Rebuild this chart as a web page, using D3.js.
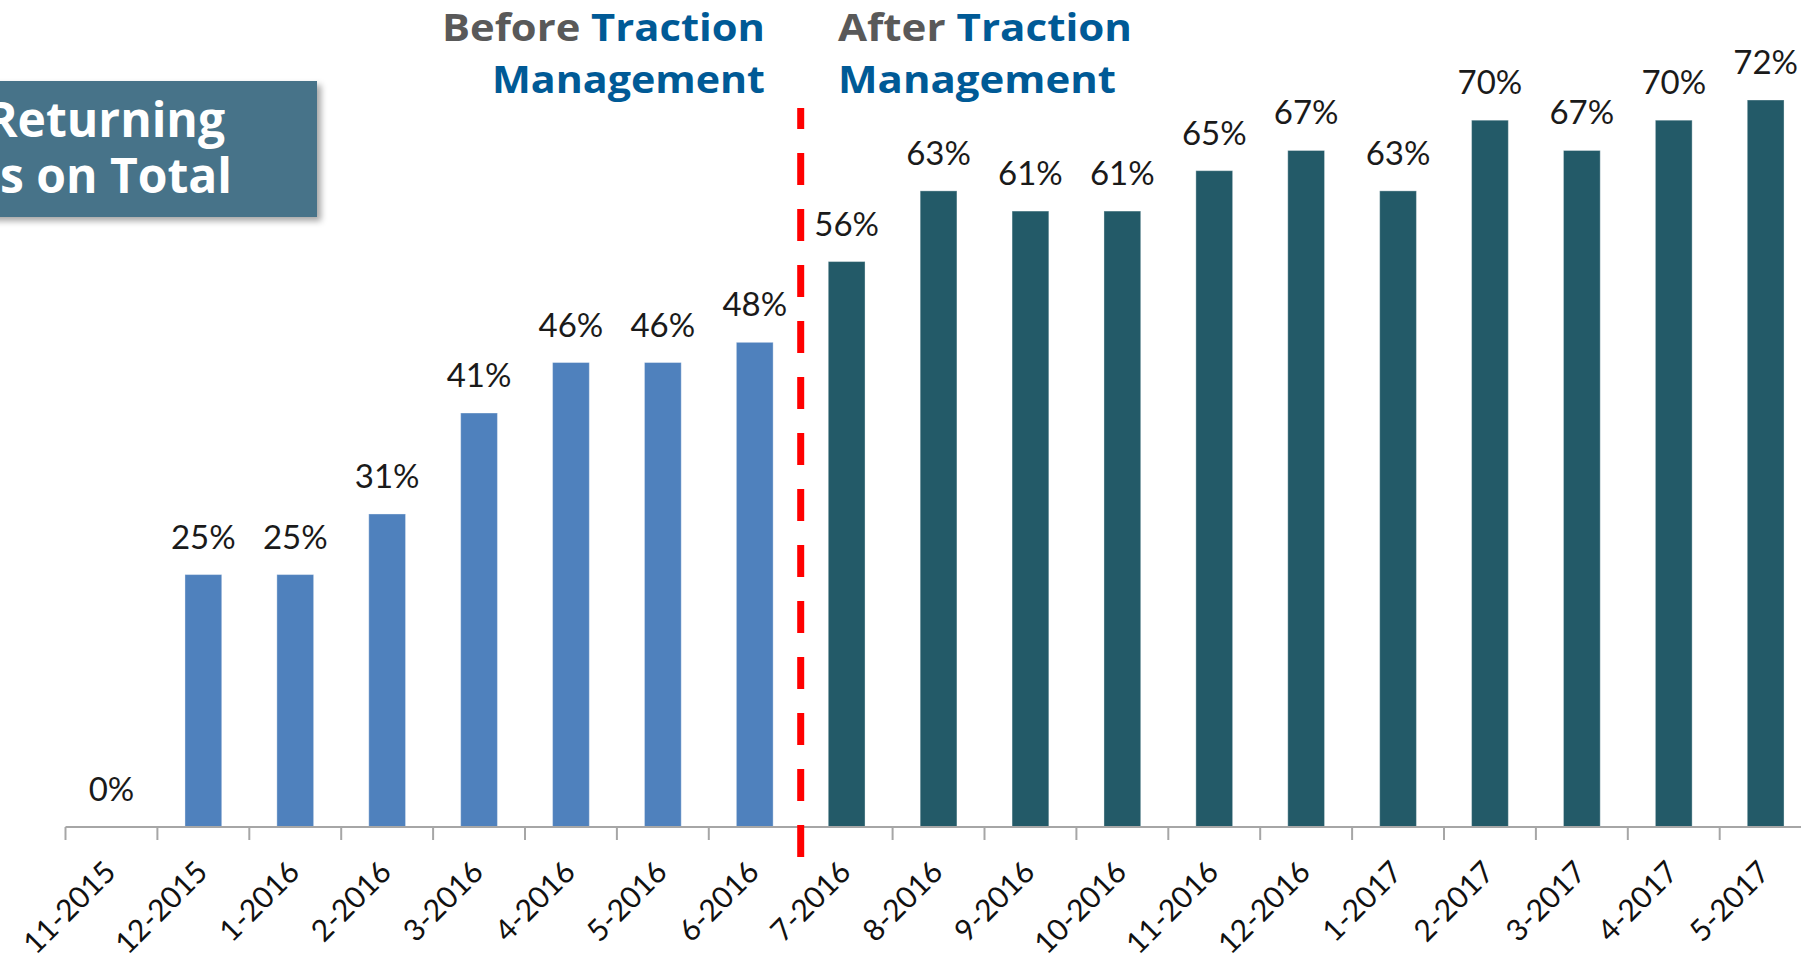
<!DOCTYPE html>
<meta charset="utf-8">
<style>
  body { margin: 0; background: #fff; }
  svg { display: block; }
</style>
<svg width="1801" height="960"></svg>
<script src="https://d3js.org/d3.v7.min.js"></script>
<script>

    var months = ["11-2015", "12-2015", "1-2016", "2-2016", "3-2016", "4-2016", "5-2016", "6-2016",
        "7-2016", "8-2016", "9-2016", "10-2016", "11-2016", "12-2016", "1-2017", "2-2017",
        "3-2017", "4-2017", "5-2017"];
    var shares = [0, 25, 25, 31, 41, 46, 46, 48,
        56, 63, 61, 61, 65, 67, 63, 70, 67, 70, 72];
    var phases = ["before", "before", "before", "before", "before", "before", "before", "before",
        "after", "after", "after", "after", "after", "after", "after", "after", "after", "after", "after"];

    var svg = d3.select("svg"),
        width = +svg.attr("width"),
        height = +svg.attr("height");

    var left = 65.5, step = 91.9, base = 827;

    var x = d3.scaleBand()
        .domain(months)
        .range([left, left + months.length * step])
        .paddingInner(0.6)
        .paddingOuter(0.3);

    var y = d3.scaleLinear()
        .domain([0, 72])
        .range([base, 100]);

    var color = d3.scaleOrdinal()
        .domain(["before", "after"])
        .range(["#4f81bd", "#235a68"]);

    // edge of each month slot (ticks sit here)
    function edge(d) { return x(d) - x.step() * x.paddingOuter(); }

    var defs = svg.append("defs");
    defs.append("filter").attr("id", "shadow")
        .attr("x", "-10%").attr("y", "-10%").attr("width", "130%").attr("height", "140%")
        .append("feDropShadow")
        .attr("dx", 4).attr("dy", 4).attr("stdDeviation", 3)
        .attr("flood-color", "#000").attr("flood-opacity", 0.35);

    // bars
    svg.append("g").selectAll("rect")
        .data(months)
        .enter().append("rect")
        .attr("x", function (d) { return x(d); })
        .attr("width", x.bandwidth())
        .attr("y", function (d, i) { return y(shares[i]); })
        .attr("height", function (d, i) { return base - y(shares[i]); })
        .attr("fill", function (d, i) { return color(phases[i]); })
        .attr("stroke", "rgba(255,255,255,0.35)")
        .attr("stroke-width", 1);

    // value labels
    svg.append("g").selectAll("text")
        .data(months)
        .enter().append("text")
        .attr("x", function (d) { return x(d) + x.bandwidth() / 2; })
        .attr("y", function (d, i) { return y(shares[i]) - 26; })
        .attr("text-anchor", "middle")
        .attr("font-family", "Lato, sans-serif")
        .attr("font-size", 33)
        .attr("fill", "#1a1a1a")
        .text(function (d, i) { return shares[i] + "%"; });

    // axis line + ticks
    var axis = svg.append("g");
    axis.append("line")
        .attr("x1", left).attr("x2", width)
        .attr("y1", base).attr("y2", base)
        .attr("stroke", "#a6a6a6").attr("stroke-width", 2);
    axis.selectAll(".tick")
        .data(months)
        .enter().append("line")
        .attr("x1", edge).attr("x2", edge)
        .attr("y1", base).attr("y2", base + 13)
        .attr("stroke", "#a6a6a6").attr("stroke-width", 2);

    axis.selectAll(".lbl")
        .data(months)
        .enter().append("text")
        .attr("transform", function (d) {
            return "translate(" + (x(d) + x.bandwidth() / 2 + 6) + "," + (base + 47) + ") rotate(-45)";
        })
        .attr("text-anchor", "end")
        .attr("font-family", "Lato, sans-serif")
        .attr("font-size", 30)
        .attr("fill", "#111")
        .text(function (d) { return d; });

    // before / after divider
    var split = edge(months[phases.indexOf("after")]);
    svg.append("line")
        .attr("x1", split).attr("x2", split)
        .attr("y1", 857).attr("y2", 108)
        .attr("stroke", "#ff0000")
        .attr("stroke-width", 7)
        .attr("stroke-dasharray", "32,24");

    // headings
    function heading(xp, yp, len, parts) {
        var t = svg.append("text")
            .attr("x", xp).attr("y", yp)
            .attr("font-family", "'Open Sans', sans-serif")
            .attr("font-weight", 700)
            .attr("font-size", 37.5)
            .attr("textLength", len)
            .attr("lengthAdjust", "spacingAndGlyphs");
        parts.forEach(function (p) {
            t.append("tspan").attr("fill", p[1]).text(p[0]);
        });
    }
    heading(442, 40.5, 323, [["Before ", "#595959"], ["Traction", "#005a96"]]);
    heading(492, 93, 273, [["Management", "#005a96"]]);
    heading(838, 40.5, 294, [["After ", "#595959"], ["Traction", "#005a96"]]);
    heading(838, 93, 278, [["Management", "#005a96"]]);

    // title box (cut off at the left edge)
    var box = svg.append("g");
    box.append("rect")
        .attr("x", -20).attr("y", 81)
        .attr("width", 337).attr("height", 136)
        .attr("fill", "#477389")
        .attr("filter", "url(#shadow)");
    var titleLines = ["% of Returning", "Guests on Total"];
    box.selectAll("text")
        .data(titleLines)
        .enter().append("text")
        .attr("x", function (d, i) { return i ? 232 : 225; })
        .attr("y", function (d, i) { return 137 + i * 56; })
        .attr("text-anchor", "end")
        .attr("font-family", "'Open Sans', sans-serif")
        .attr("font-weight", 700)
        .attr("font-size", 48)
        .attr("fill", "#fff")
        .text(function (d) { return d; });

</script>
